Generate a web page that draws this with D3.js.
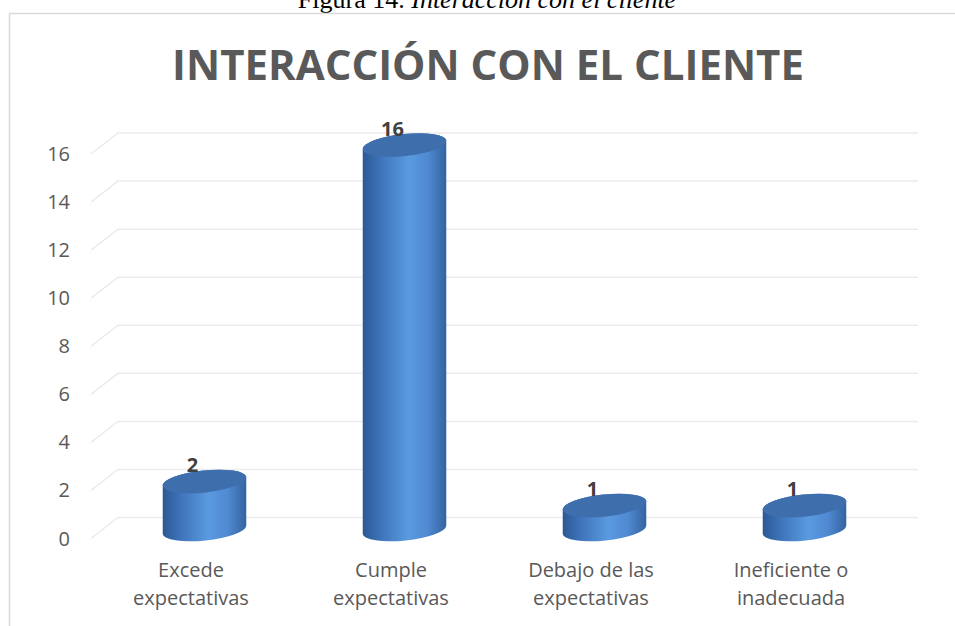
<!DOCTYPE html>
<html>
<head>
<meta charset="utf-8">
<script src="https://cdn.jsdelivr.net/npm/d3@7"></script>
<style>
  body { margin: 0; background: #fff; }
  svg { display: block; }
</style>
</head>
<body>
<div id="chart"></div>
<script>
// Data
var categories = [["Excede", "expectativas"], ["Cumple", "expectativas"], ["Debajo de las", "expectativas"], ["Ineficiente o", "inadecuada"]];
var values = [2, 16, 1, 1];
var yTicks = [0, 2, 4, 6, 8, 10, 12, 14, 16];

var svgWidth = 955, svgHeight = 626;

var svg = d3.select("#chart").append("svg")
    .attr("width", svgWidth)
    .attr("height", svgHeight);

// caption above the chart (cut at the top of the page, as in the source)
svg.append("text")
    .attr("x", 487).attr("y", 8)
    .attr("text-anchor", "middle")
    .style("font-family", "'Liberation Serif', 'Times New Roman', serif")
    .style("font-size", "26px")
    .style("fill", "#000")
    .html('Figura 14. <tspan font-style="italic">Interacción con el cliente</tspan>');

// chart frame (only top and left edges visible)
svg.append("path")
    .attr("d", "M9.5,626 L9.5,13.5 L955,13.5")
    .attr("fill", "none")
    .attr("stroke", "#d9d9d9")
    .attr("stroke-width", 1.5);

// title
svg.append("text")
    .attr("x", 488).attr("y", 80)
    .attr("text-anchor", "middle")
    .style("font-family", "'Open Sans', sans-serif")
    .style("font-weight", "bold")
    .style("font-size", "42px")
    .style("fill", "#595959")
    .text("INTERACCIÓN CON EL CLIENTE");

// 3D geometry: back wall plane and offset of front edge
var backLeft = 118, backRight = 918;
var depth = { dx: -27, dy: 21 };

var x = d3.scaleBand()
    .domain(d3.range(categories.length))
    .range([backLeft, backRight]);

var y = d3.scaleLinear()
    .domain([0, 16])
    .range([517.5, 133]);

// gridlines: back wall + slanted side
var grid = svg.append("g");
yTicks.forEach(function(t) {
    grid.append("path")
        .attr("d", "M" + (backLeft + depth.dx) + "," + (y(t) + depth.dy) +
                   " L" + backLeft + "," + y(t) + " L" + backRight + "," + y(t))
        .attr("fill", "none")
        .attr("stroke", "#ebebeb")
        .attr("stroke-width", 1.5);
});

// y axis labels at the front edge
svg.append("g").selectAll("text")
    .data(yTicks)
    .enter()
    .append("text")
    .attr("x", 70)
    .attr("y", d => y(d) + depth.dy)
    .attr("dy", "0.35em")
    .attr("text-anchor", "end")
    .style("font-family", "'Open Sans', sans-serif")
    .style("font-size", "20px")
    .style("fill", "#595959")
    .text(d => d);

// category labels
var catG = svg.append("g").selectAll("text")
    .data(categories)
    .enter()
    .append("text")
    .attr("text-anchor", "middle")
    .style("font-family", "'Open Sans', sans-serif")
    .style("font-size", "20px")
    .style("fill", "#595959");
catG.each(function(lines, i) {
    var cx = x(i) + x.bandwidth() / 2 + depth.dx;
    lines.forEach(function(l, j) {
        d3.select(this).append("tspan")
            .attr("x", cx)
            .attr("y", 577 + j * 28)
            .text(l);
    }, this);
});

// gradient for cylinder bodies
var defs = svg.append("defs");
var grad = defs.append("linearGradient").attr("id", "body")
    .attr("x1", "0").attr("x2", "1").attr("y1", "0").attr("y2", "0");
grad.append("stop").attr("offset", "0%").attr("stop-color", "#2c5993");
grad.append("stop").attr("offset", "20%").attr("stop-color", "#3d72b8");
grad.append("stop").attr("offset", "55%").attr("stop-color", "#5a9ae0");
grad.append("stop").attr("offset", "78%").attr("stop-color", "#4f89d1");
grad.append("stop").attr("offset", "100%").attr("stop-color", "#34639f");

// cylinders sit on the middle depth plane
var rx = 42, ry = 11, tilt = -6;
var mid = { dx: -13.5, dy: 12 };
var rad = tilt * Math.PI / 180;
var ex = rx * Math.cos(rad), ey = rx * Math.sin(rad);

var bars = svg.append("g").selectAll("g")
    .data(values)
    .enter()
    .append("g");

bars.each(function(v, i) {
    var g = d3.select(this);
    var cx = x(i) + x.bandwidth() / 2 + mid.dx;
    var cyTop = y(v) + mid.dy;
    var cyBot = y(0) + mid.dy;
    var d = "M" + (cx - ex) + "," + (cyTop - ey) +
        " L" + (cx - ex) + "," + (cyBot - ey) +
        " A" + rx + "," + ry + " " + tilt + " 0 0 " + (cx + ex) + "," + (cyBot + ey) +
        " L" + (cx + ex) + "," + (cyTop + ey) +
        " A" + rx + "," + ry + " " + tilt + " 0 0 " + (cx - ex) + "," + (cyTop - ey) + " Z";
    g.append("path").attr("d", d).attr("fill", "url(#body)");
    g.append("ellipse")
        .attr("cx", 0).attr("cy", 0)
        .attr("rx", rx).attr("ry", ry)
        .attr("transform", "translate(" + cx + "," + cyTop + ") rotate(" + tilt + ")")
        .attr("fill", "#3f6ead");

    // data label
    g.append("text")
        .attr("x", cx - 12)
        .attr("y", y(v) + 3)
        .attr("text-anchor", "middle")
        .style("font-family", "'Open Sans', sans-serif")
        .style("font-weight", "bold")
        .style("font-size", "20px")
        .style("fill", "#404040")
        .text(v);
});
</script>
</body>
</html>
